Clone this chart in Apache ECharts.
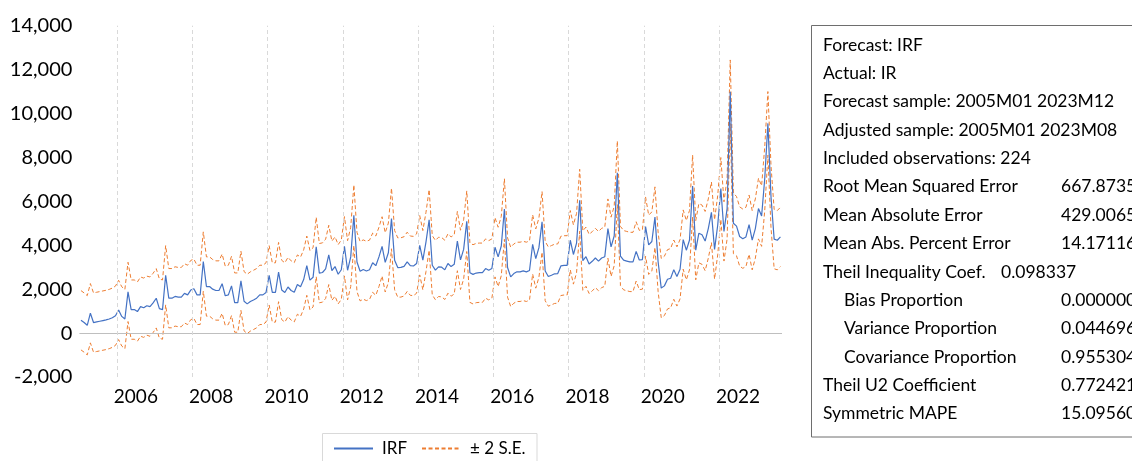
<!DOCTYPE html>
<html>
<head>
<meta charset="utf-8">
<script src="https://cdn.jsdelivr.net/npm/echarts@6.0.0/dist/echarts.min.js"></script>
<style>
  html, body { margin: 0; padding: 0; background: #fff; }
  #main { width: 1132px; height: 461px; }
</style>
</head>
<body>
<div id="main"></div>
<script>
// monthly observations 2005M01 .. 2023M08 (224)
const startYear = 2005;
const nObs = 224;
const yTicks = { min: -2000, max: 14000, step: 2000 };
// year labels and the January gridlines (every second year)
const labelYears = [2006, 2008, 2010, 2012, 2014, 2016, 2018, 2020, 2022];

// forecast IRF
const irf = [
  585, 480, 355, 905, 480, 510, 540, 570, 600, 640, 700, 790,
  1055, 760, 640, 1875, 1070, 1070, 980, 1205, 1155, 1245, 1205, 1375,
  1585, 1115, 1070, 2635, 1590, 1590, 1670, 1640, 1640, 1810, 1740, 1960,
  2020, 1740, 1740, 3260, 2120, 2120, 2000, 1940, 1940, 2250, 1700, 1740,
  2150, 1390, 1390, 2380, 1450, 1330, 1440, 1510, 1590, 1740, 1740, 1850,
  2630, 1850, 1850, 2780, 1965, 1850, 2100, 1940, 1860, 2210, 2110, 2440,
  3070, 2410, 2540, 3925, 2730, 2760, 2925, 3560, 2840, 3030, 2680, 2885,
  3955, 2860, 3470, 5370, 3240, 2815, 2895, 2830, 2885, 3205, 3070, 3470,
  3950, 3220, 3660, 5220, 3320, 2985, 2990, 3040, 3245, 3070, 3055, 3165,
  4000, 3320, 4155, 5155, 3090, 2870, 3015, 3000, 2880, 3170, 3030, 3130,
  4190, 3335, 3810, 5095, 2750, 2675, 2735, 2750, 2750, 2940, 2860, 2940,
  3910, 3470, 3965, 5650, 2990, 2560, 2710, 2790, 2790, 2830, 2790, 2850,
  4040, 3395, 3890, 5065, 2825, 2575, 2635, 2700, 2710, 3060, 3085, 3085,
  4230, 3580, 4100, 6050, 3300, 3480, 3150, 3270, 3420, 3280, 3420, 3480,
  4760, 3930, 4420, 7300, 3510, 3320, 3280, 3240, 3240, 3720, 3330, 3350,
  4850, 4020, 4170, 5280, 3250, 2050, 2150, 2450, 2500, 2890, 2580, 2910,
  4260, 3775, 4230, 6700, 3775, 4550, 4480, 4190, 4760, 5500, 3810, 4910,
  6585, 4630, 5670, 10990, 5000, 4870, 4400, 4300, 4380, 4940, 4230, 4760,
  5670, 5330, 7040, 9550, 6200, 4280, 4230, 4380
];

// upper band (+2 S.E.)
const upper = [
  1935, 1830, 1705, 2255, 1830, 1860, 1890, 1920, 1950, 1990, 2050, 2140,
  2405, 2110, 1990, 3225, 2420, 2420, 2330, 2555, 2505, 2595, 2555, 2725,
  2935, 2465, 2420, 3985, 2940, 2940, 3020, 2990, 2990, 3160, 3090, 3310,
  3370, 3090, 3090, 4610, 3470, 3470, 3350, 3290, 3290, 3600, 3050, 3090,
  3500, 2740, 2740, 3730, 2800, 2680, 2790, 2860, 2940, 3090, 3090, 3200,
  3980, 3200, 3200, 4130, 3315, 3200, 3450, 3290, 3210, 3560, 3460, 3790,
  4420, 3760, 3890, 5275, 4080, 4110, 4275, 4910, 4190, 4380, 4030, 4235,
  5305, 4210, 4820, 6750, 4590, 4165, 4245, 4180, 4235, 4555, 4420, 4820,
  5300, 4570, 5010, 6600, 4670, 4335, 4340, 4390, 4595, 4420, 4405, 4515,
  5350, 4670, 5505, 6535, 4440, 4220, 4365, 4350, 4230, 4520, 4380, 4480,
  5540, 4685, 5160, 6475, 4100, 4025, 4085, 4100, 4100, 4290, 4210, 4290,
  5260, 4820, 5315, 7030, 4340, 3910, 4060, 4140, 4140, 4180, 4140, 4200,
  5390, 4745, 5240, 6445, 4175, 3925, 3985, 4050, 4060, 4410, 4435, 4435,
  5580, 4930, 5450, 7460, 4650, 4830, 4500, 4620, 4770, 4630, 4770, 4830,
  6110, 5280, 5770, 8750, 4860, 4670, 4630, 4590, 4590, 5070, 4680, 4700,
  6200, 5370, 5520, 6660, 4600, 3400, 3500, 3800, 3850, 4240, 3930, 4260,
  5610, 5125, 5580, 8110, 5125, 5900, 5830, 5540, 6110, 6880, 5160, 6260,
  7995, 5980, 7050, 12440, 6380, 6220, 5750, 5650, 5730, 6290, 5580, 6110,
  7050, 6710, 8490, 11000, 7610, 5630, 5580, 5730
];

// lower band (-2 S.E.)
const lower = [
  -765, -870, -995, -445, -870, -840, -810, -780, -750, -710, -650, -560,
  -295, -590, -710, 525, -280, -280, -370, -145, -195, -95, -145, 25,
  235, -235, -280, 1285, 240, 240, 320, 290, 290, 460, 390, 610,
  670, 390, 390, 1910, 770, 770, 650, 590, 590, 900, 350, 390,
  800, 40, 40, 1030, 100, -20, 90, 160, 240, 390, 390, 500,
  1280, 500, 500, 1430, 615, 500, 750, 590, 510, 860, 760, 1090,
  1720, 1060, 1190, 2575, 1380, 1410, 1575, 2210, 1490, 1680, 1330, 1535,
  2605, 1510, 2120, 3990, 1890, 1465, 1545, 1480, 1535, 1855, 1720, 2120,
  2600, 1870, 2310, 3840, 1970, 1635, 1640, 1690, 1895, 1720, 1705, 1815,
  2650, 1970, 2805, 3775, 1740, 1520, 1665, 1650, 1530, 1820, 1680, 1780,
  2840, 1985, 2460, 3715, 1400, 1325, 1385, 1400, 1400, 1590, 1510, 1590,
  2560, 2120, 2615, 4270, 1640, 1210, 1360, 1440, 1440, 1480, 1440, 1500,
  2690, 2045, 2540, 3685, 1475, 1225, 1285, 1350, 1360, 1710, 1735, 1735,
  2880, 2230, 2750, 4640, 1950, 2130, 1800, 1920, 2070, 1930, 2070, 2130,
  3410, 2580, 3070, 5850, 2160, 1970, 1930, 1890, 1890, 2370, 1980, 2000,
  3500, 2670, 2820, 3900, 1900, 700, 800, 1100, 1150, 1540, 1230, 1560,
  2910, 2425, 2880, 5290, 2425, 3200, 3130, 2840, 3410, 4120, 2460, 3560,
  5175, 3280, 4290, 9540, 3620, 3520, 3050, 2950, 3030, 3590, 2880, 3410,
  4290, 3950, 5590, 8100, 4790, 2930, 2880, 3030
];

// forecast evaluation box
const statRows = [
  ["Forecast: IRF", ""],
  ["Actual: IR", ""],
  ["Forecast sample: 2005M01 2023M12", ""],
  ["Adjusted sample: 2005M01 2023M08", ""],
  ["Included observations: 224", ""],
  ["Root Mean Squared Error", "667.8735"],
  ["Mean Absolute Error", "429.0065"],
  ["Mean Abs. Percent Error", "14.17116"],
  ["Theil Inequality Coef.", "0.098337"],
  ["Bias Proportion", "0.000000"],
  ["Variance Proportion", "0.044696"],
  ["Covariance Proportion", "0.955304"],
  ["Theil U2 Coefficient", "0.772421"],
  ["Symmetric MAPE", "15.09560"]
];
const indented = [9, 10, 11];

const FONT = "Lato, 'Open Sans', sans-serif";
const chart = echarts.init(document.getElementById("main"));

// x is the month index, 0 = 2005M01
const toPairs = (arr) => arr.map((v, i) => [i, v]);
const yearIdx = (yr) => (yr - startYear) * 12;

// stats text
const statEls = [];
statRows.forEach((row, i) => {
  const y = 45 + i * 28.36;
  statEls.push({
    type: "text",
    x: indented.includes(i) ? 844 : 823,
    y: y,
    style: { text: row[0], fontSize: 17.5, fontFamily: FONT, fill: "#000", verticalAlign: "middle" }
  });
  if (row[1]) {
    statEls.push({
      type: "text",
      x: i === 8 ? 1001 : 1061,
      y: y,
      style: { text: row[1], fontSize: 17.5, fontFamily: FONT, fill: "#000", verticalAlign: "middle" }
    });
  }
});

const bandStyle = { color: "#ED7D31", width: 1, type: [4, 2.5] };

chart.setOption({
  animation: false,
  grid: { left: 79.4, right: 350, top: 25.7, bottom: 84 },
  legend: {
    left: 333,
    top: 440,
    padding: 0,
    itemWidth: 39,
    itemHeight: 12,
    itemGap: 14,
    itemStyle: { opacity: 0 },
    data: ["IRF", "± 2 S.E."],
    textStyle: { fontFamily: FONT, fontSize: 17, color: "#000", padding: [0, 0, 0, 4] }
  },
  xAxis: {
    type: "value",
    min: -0.5,
    max: nObs - 0.5,
    axisLine: { show: false, onZero: false },
    axisTick: { show: false },
    splitLine: { show: false },
    axisLabel: {
      customValues: labelYears.map((yr) => yearIdx(yr) + 5.5),
      formatter: (v) => String(startYear + Math.floor(v / 12)),
      fontFamily: FONT,
      fontSize: 19,
      color: "#000",
      margin: 10
    }
  },
  yAxis: {
    type: "value",
    min: yTicks.min,
    max: yTicks.max,
    interval: yTicks.step,
    axisLine: { show: false },
    axisTick: { show: false },
    splitLine: { show: false },
    axisLabel: {
      formatter: (v) => v.toLocaleString("en-US"),
      fontFamily: FONT,
      fontSize: 20,
      color: "#000",
      margin: 7
    }
  },
  series: [
    {
      // gridlines + zero line
      name: "grid",
      type: "line",
      data: [],
      z: 1,
      markLine: {
        silent: true,
        symbol: "none",
        label: { show: false },
        animation: false,
        data: [
          { yAxis: 0, lineStyle: { color: "#BFBFBF", type: "solid", width: 1 } }
        ].concat(labelYears.map((yr) => ({
          xAxis: yearIdx(yr) - 0.5,
          lineStyle: { color: "#D9D9D9", type: [4, 3], width: 1 }
        })))
      }
    },
    {
      name: "± 2 S.E.",
      type: "line",
      data: toPairs(upper),
      symbol: "none",
      z: 2,
      lineStyle: bandStyle,
      itemStyle: { color: "#ED7D31" }
    },
    {
      name: "± 2 S.E.",
      type: "line",
      data: toPairs(lower),
      symbol: "none",
      z: 2,
      lineStyle: bandStyle,
      itemStyle: { color: "#ED7D31" }
    },
    {
      name: "IRF",
      type: "line",
      data: toPairs(irf),
      symbol: "none",
      z: 3,
      lineStyle: { color: "#4472C4", width: 1.2 },
      itemStyle: { color: "#4472C4" }
    }
  ],
  graphic: [
    {
      type: "rect",
      shape: { x: 322.5, y: 433.5, width: 214.5, height: 40 },
      style: { fill: "none", stroke: "#D9D9D9", lineWidth: 1 },
      silent: true
    },
    {
      type: "rect",
      shape: { x: 811.5, y: 25.5, width: 400, height: 411.5 },
      style: { fill: "#fff", stroke: "#6E6E6E", lineWidth: 1 },
      silent: true
    }
  ].concat(statEls)
});
</script>
</body>
</html>
